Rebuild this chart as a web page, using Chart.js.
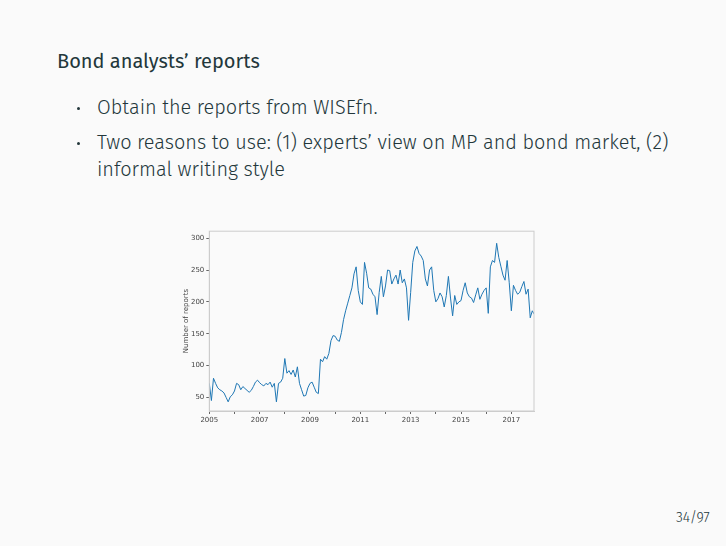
<!DOCTYPE html>
<html>
<head>
<meta charset="utf-8">
<script src="https://cdn.jsdelivr.net/npm/chart.js@4.4.1/dist/chart.umd.min.js"></script>
<style>
  html, body { margin: 0; padding: 0; }
  body {
    width: 726px; height: 546px; overflow: hidden; position: relative;
    background: #fafafa; color: #23373b;
    font-family: "Fira Sans", "Open Sans", sans-serif;
  }
  .frametitle { position: absolute; left: 57px; top: 49px; font-size: 20px; white-space: nowrap; }
  .item { position: absolute; left: 97px; font-size: 19.9px; font-weight: 300; line-height: 27px; white-space: nowrap; }
  .item::before { content: ""; position: absolute; left: -20px; top: 13px; width: 3px; height: 3px; border-radius: 50%; background: #23373b; }
  .pageno { position: absolute; left: 676px; top: 509px; font-size: 14px; font-weight: 300; }
  #wrap { position: absolute; left: 175px; top: 225px; width: 365px; height: 205px; }
</style>
</head>
<body>
<div class="frametitle">Bond analysts’ reports</div>
<div class="item" style="top:94px">Obtain the reports from WISEfn.</div>
<div class="item" style="top:129px">Two reasons to use: (1) experts’ view on MP and bond market, (2)<br>informal writing style</div>
<div class="pageno">34/97</div>
<div id="wrap"><canvas id="chartReports"></canvas></div>

<script>
(function () {
  "use strict";

  // ----- Data (monthly counts) -----
  const START_YEAR = 2005;
  const monthlyReports = [
    72, 45, 80, 72, 65, 62, 60, 57, 50, 43, 51, 54,          // 2005
    60, 72, 70, 62, 67, 64, 61, 58, 61, 67, 74, 77,          // 2006
    73, 70, 68, 72, 70, 74, 66, 72, 43, 72, 74, 80,          // 2007
    111, 88, 92, 86, 93, 82, 98, 72, 62, 52, 53, 65,         // 2008
    72, 74, 66, 58, 56, 110, 106, 114, 110, 119, 139, 147,   // 2009
    146, 140, 138, 152, 172, 186, 198, 210, 222, 244, 255, 218, // 2010
    200, 196, 262, 245, 222, 220, 212, 208, 180, 215, 240, 208, // 2011
    225, 250, 249, 228, 236, 242, 228, 250, 230, 236, 222, 171, // 2012
    215, 262, 280, 287, 276, 272, 265, 236, 225, 250, 255, 218, // 2013
    200, 205, 214, 208, 192, 210, 240, 206, 178, 210, 196, 200, // 2014
    202, 218, 230, 214, 208, 206, 199, 211, 222, 204, 212, 218, // 2015
    222, 182, 255, 265, 262, 292, 270, 256, 242, 234, 265, 230, // 2016
    186, 226, 218, 212, 215, 224, 232, 212, 220, 175, 186, 180  // 2017
  ];
  const xLabelYears = [2005, 2007, 2009, 2011, 2013, 2015, 2017];
  const yTickValues = [50, 100, 150, 200, 250, 300];

  const X_MIN = 2005, X_MAX = 2017.9;
  const Y_MIN = 28.6, Y_MAX = 311;
  const SPINE = "#cccccc";
  const TICK_FONT = { family: "DejaVu Sans, sans-serif", size: 7 };

  const points = monthlyReports.map((v, i) => ({ x: START_YEAR + i / 12, y: v }));

  // draw the full box like matplotlib spines
  const boxPlugin = {
    id: "box",
    afterDraw(chart) {
      const a = chart.chartArea, ctx = chart.ctx;
      ctx.save();
      ctx.strokeStyle = SPINE;
      ctx.lineWidth = 1;
      ctx.strokeRect(a.left, a.top, a.right - a.left, a.bottom - a.top);
      ctx.restore();
    },
  };

  new Chart(document.getElementById("chartReports"), {
    type: "line",
    data: {
      datasets: [{
        data: points,
        borderColor: "#1f77b4",
        borderWidth: 1,
        pointRadius: 0,
        tension: 0,
        fill: false,
      }],
    },
    options: {
      responsive: true,
      maintainAspectRatio: false,
      animation: false,
      layout: { padding: { top: 5, right: 6, left: 0, bottom: 0 } },
      plugins: { legend: { display: false }, tooltip: { enabled: false } },
      scales: {
        x: {
          type: "linear",
          min: X_MIN,
          max: X_MAX,
          afterFit: (s) => { s.height = 19; },
          grid: { drawOnChartArea: false, drawTicks: true, tickLength: 3, color: "#666" },
          border: { color: SPINE },
          ticks: {
            stepSize: 1,
            includeBounds: false,
            maxRotation: 0,
            autoSkip: false,
            padding: 2,
            color: "#444",
            font: TICK_FONT,
            callback: (v) => (xLabelYears.includes(v) ? String(v) : ""),
          },
        },
        y: {
          min: Y_MIN,
          max: Y_MAX,
          afterFit: (s) => { s.width = 34.3; },
          grid: { drawOnChartArea: false, drawTicks: true, tickLength: 3, color: "#666" },
          border: { color: SPINE },
          title: { display: true, text: "Number of reports", color: "#444", font: TICK_FONT, padding: { top: 7, bottom: 0 } },
          ticks: {
            stepSize: 50,
            includeBounds: false,
            padding: 2,
            color: "#444",
            font: TICK_FONT,
            callback: (v) => (yTickValues.includes(v) ? String(v) : ""),
          },
        },
      },
    },
    plugins: [boxPlugin],
  });
})();
</script>
</body>
</html>
